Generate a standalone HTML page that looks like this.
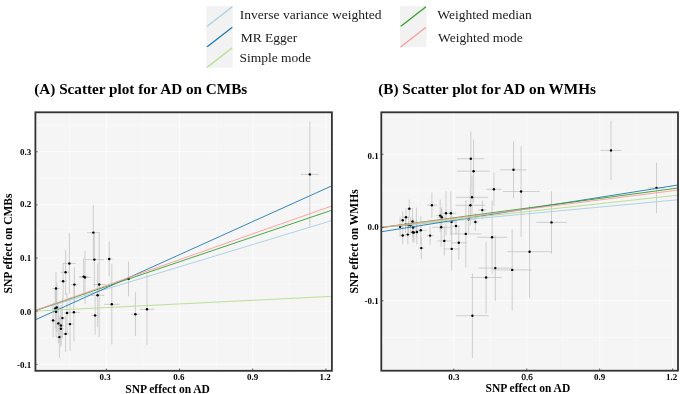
<!DOCTYPE html>
<html><head><meta charset="utf-8"><style>
html,body{margin:0;padding:0;background:#fff;}
body{width:685px;height:394px;overflow:hidden;}
svg{display:block;font-family:"Liberation Serif", serif;will-change:transform;}
</style></head><body>
<svg width="685" height="394" viewBox="0 0 685 394">
<rect x="35.4" y="112.3" width="296.50" height="258.50" fill="#f5f5f5"/>
<line x1="69.81" y1="112.3" x2="69.81" y2="370.8" stroke="#fcfcfc" stroke-width="0.6"/>
<line x1="142.99" y1="112.3" x2="142.99" y2="370.8" stroke="#fcfcfc" stroke-width="0.6"/>
<line x1="216.16" y1="112.3" x2="216.16" y2="370.8" stroke="#fcfcfc" stroke-width="0.6"/>
<line x1="289.33" y1="112.3" x2="289.33" y2="370.8" stroke="#fcfcfc" stroke-width="0.6"/>
<line x1="35.4" y1="337.77" x2="331.9" y2="337.77" stroke="#fcfcfc" stroke-width="0.6"/>
<line x1="35.4" y1="284.62" x2="331.9" y2="284.62" stroke="#fcfcfc" stroke-width="0.6"/>
<line x1="35.4" y1="231.47" x2="331.9" y2="231.47" stroke="#fcfcfc" stroke-width="0.6"/>
<line x1="35.4" y1="178.32" x2="331.9" y2="178.32" stroke="#fcfcfc" stroke-width="0.6"/>
<line x1="35.4" y1="125.18" x2="331.9" y2="125.18" stroke="#fcfcfc" stroke-width="0.6"/>
<line x1="106.40" y1="112.3" x2="106.40" y2="370.8" stroke="#fcfcfc" stroke-width="1.1"/>
<line x1="179.57" y1="112.3" x2="179.57" y2="370.8" stroke="#fcfcfc" stroke-width="1.1"/>
<line x1="252.74" y1="112.3" x2="252.74" y2="370.8" stroke="#fcfcfc" stroke-width="1.1"/>
<line x1="325.91" y1="112.3" x2="325.91" y2="370.8" stroke="#fcfcfc" stroke-width="1.1"/>
<line x1="35.4" y1="364.35" x2="331.9" y2="364.35" stroke="#fcfcfc" stroke-width="1.1"/>
<line x1="35.4" y1="311.20" x2="331.9" y2="311.20" stroke="#fcfcfc" stroke-width="1.1"/>
<line x1="35.4" y1="258.05" x2="331.9" y2="258.05" stroke="#fcfcfc" stroke-width="1.1"/>
<line x1="35.4" y1="204.90" x2="331.9" y2="204.90" stroke="#fcfcfc" stroke-width="1.1"/>
<line x1="35.4" y1="151.75" x2="331.9" y2="151.75" stroke="#fcfcfc" stroke-width="1.1"/>
<line x1="309.8" y1="121.6" x2="309.8" y2="227.2" stroke="#c4c4c4" stroke-width="0.8"/>
<line x1="300.9" y1="174.4" x2="318.7" y2="174.4" stroke="#c4c4c4" stroke-width="0.8"/>
<line x1="93.3" y1="205.0" x2="93.3" y2="260.2" stroke="#c4c4c4" stroke-width="0.8"/>
<line x1="87.2" y1="232.6" x2="99.4" y2="232.6" stroke="#c4c4c4" stroke-width="0.8"/>
<line x1="69.4" y1="233.2" x2="69.4" y2="293.8" stroke="#c4c4c4" stroke-width="0.8"/>
<line x1="63.1" y1="263.5" x2="75.7" y2="263.5" stroke="#c4c4c4" stroke-width="0.8"/>
<line x1="65.6" y1="249.7" x2="65.6" y2="294.9" stroke="#c4c4c4" stroke-width="0.8"/>
<line x1="60.9" y1="272.3" x2="70.3" y2="272.3" stroke="#c4c4c4" stroke-width="0.8"/>
<line x1="63.1" y1="263.0" x2="63.1" y2="299.4" stroke="#c4c4c4" stroke-width="0.8"/>
<line x1="59.4" y1="281.2" x2="66.8" y2="281.2" stroke="#c4c4c4" stroke-width="0.8"/>
<line x1="56.0" y1="271.8" x2="56.0" y2="305.2" stroke="#c4c4c4" stroke-width="0.8"/>
<line x1="52.1" y1="288.5" x2="59.9" y2="288.5" stroke="#c4c4c4" stroke-width="0.8"/>
<line x1="74.4" y1="267.2" x2="74.4" y2="302.0" stroke="#c4c4c4" stroke-width="0.8"/>
<line x1="70.9" y1="284.6" x2="77.9" y2="284.6" stroke="#c4c4c4" stroke-width="0.8"/>
<line x1="83.7" y1="258.0" x2="83.7" y2="295.2" stroke="#c4c4c4" stroke-width="0.8"/>
<line x1="79.3" y1="276.6" x2="88.1" y2="276.6" stroke="#c4c4c4" stroke-width="0.8"/>
<line x1="85.0" y1="251.0" x2="85.0" y2="303.8" stroke="#c4c4c4" stroke-width="0.8"/>
<line x1="79.2" y1="277.4" x2="90.8" y2="277.4" stroke="#c4c4c4" stroke-width="0.8"/>
<line x1="94.4" y1="231.6" x2="94.4" y2="287.6" stroke="#c4c4c4" stroke-width="0.8"/>
<line x1="85.0" y1="259.6" x2="103.8" y2="259.6" stroke="#c4c4c4" stroke-width="0.8"/>
<line x1="109.2" y1="241.5" x2="109.2" y2="276.5" stroke="#c4c4c4" stroke-width="0.8"/>
<line x1="105.9" y1="259.0" x2="112.5" y2="259.0" stroke="#c4c4c4" stroke-width="0.8"/>
<line x1="99.2" y1="232.0" x2="99.2" y2="337.0" stroke="#c4c4c4" stroke-width="0.8"/>
<line x1="92.9" y1="284.5" x2="105.5" y2="284.5" stroke="#c4c4c4" stroke-width="0.8"/>
<line x1="128.5" y1="261.5" x2="128.5" y2="296.3" stroke="#c4c4c4" stroke-width="0.8"/>
<line x1="126.6" y1="278.9" x2="130.4" y2="278.9" stroke="#c4c4c4" stroke-width="0.8"/>
<line x1="111.8" y1="264.0" x2="111.8" y2="344.6" stroke="#c4c4c4" stroke-width="0.8"/>
<line x1="104.1" y1="304.3" x2="119.5" y2="304.3" stroke="#c4c4c4" stroke-width="0.8"/>
<line x1="135.4" y1="292.2" x2="135.4" y2="336.2" stroke="#c4c4c4" stroke-width="0.8"/>
<line x1="131.2" y1="314.2" x2="139.6" y2="314.2" stroke="#c4c4c4" stroke-width="0.8"/>
<line x1="147.0" y1="273.8" x2="147.0" y2="344.8" stroke="#c4c4c4" stroke-width="0.8"/>
<line x1="139.8" y1="309.3" x2="154.2" y2="309.3" stroke="#c4c4c4" stroke-width="0.8"/>
<line x1="55.3" y1="288.4" x2="55.3" y2="328.4" stroke="#c4c4c4" stroke-width="0.8"/>
<line x1="52.3" y1="308.4" x2="58.3" y2="308.4" stroke="#c4c4c4" stroke-width="0.8"/>
<line x1="56.8" y1="282.4" x2="56.8" y2="332.4" stroke="#c4c4c4" stroke-width="0.8"/>
<line x1="53.8" y1="307.4" x2="59.8" y2="307.4" stroke="#c4c4c4" stroke-width="0.8"/>
<line x1="56.0" y1="286.8" x2="56.0" y2="336.8" stroke="#c4c4c4" stroke-width="0.8"/>
<line x1="53.0" y1="311.8" x2="59.0" y2="311.8" stroke="#c4c4c4" stroke-width="0.8"/>
<line x1="67.0" y1="293.0" x2="67.0" y2="333.0" stroke="#c4c4c4" stroke-width="0.8"/>
<line x1="64.0" y1="313.0" x2="70.0" y2="313.0" stroke="#c4c4c4" stroke-width="0.8"/>
<line x1="73.9" y1="283.1" x2="73.9" y2="341.5" stroke="#c4c4c4" stroke-width="0.8"/>
<line x1="67.9" y1="312.3" x2="79.9" y2="312.3" stroke="#c4c4c4" stroke-width="0.8"/>
<line x1="53.1" y1="303.4" x2="53.1" y2="337.4" stroke="#c4c4c4" stroke-width="0.8"/>
<line x1="50.7" y1="320.4" x2="55.5" y2="320.4" stroke="#c4c4c4" stroke-width="0.8"/>
<line x1="62.4" y1="298.1" x2="62.4" y2="338.1" stroke="#c4c4c4" stroke-width="0.8"/>
<line x1="59.9" y1="318.1" x2="64.9" y2="318.1" stroke="#c4c4c4" stroke-width="0.8"/>
<line x1="58.3" y1="303.4" x2="58.3" y2="343.4" stroke="#c4c4c4" stroke-width="0.8"/>
<line x1="55.3" y1="323.4" x2="61.3" y2="323.4" stroke="#c4c4c4" stroke-width="0.8"/>
<line x1="60.9" y1="305.5" x2="60.9" y2="345.5" stroke="#c4c4c4" stroke-width="0.8"/>
<line x1="57.9" y1="325.5" x2="63.9" y2="325.5" stroke="#c4c4c4" stroke-width="0.8"/>
<line x1="70.0" y1="297.1" x2="70.0" y2="351.1" stroke="#c4c4c4" stroke-width="0.8"/>
<line x1="66.2" y1="324.1" x2="73.8" y2="324.1" stroke="#c4c4c4" stroke-width="0.8"/>
<line x1="60.9" y1="310.8" x2="60.9" y2="346.8" stroke="#c4c4c4" stroke-width="0.8"/>
<line x1="57.9" y1="328.8" x2="63.9" y2="328.8" stroke="#c4c4c4" stroke-width="0.8"/>
<line x1="65.6" y1="316.0" x2="65.6" y2="351.8" stroke="#c4c4c4" stroke-width="0.8"/>
<line x1="61.9" y1="333.9" x2="69.2" y2="333.9" stroke="#c4c4c4" stroke-width="0.8"/>
<line x1="59.4" y1="316.3" x2="59.4" y2="357.9" stroke="#c4c4c4" stroke-width="0.8"/>
<line x1="55.9" y1="337.1" x2="62.9" y2="337.1" stroke="#c4c4c4" stroke-width="0.8"/>
<line x1="97.6" y1="263.6" x2="97.6" y2="327.0" stroke="#c4c4c4" stroke-width="0.8"/>
<line x1="90.8" y1="295.3" x2="104.4" y2="295.3" stroke="#c4c4c4" stroke-width="0.8"/>
<line x1="95.1" y1="296.2" x2="95.1" y2="334.6" stroke="#c4c4c4" stroke-width="0.8"/>
<line x1="91.1" y1="315.4" x2="99.1" y2="315.4" stroke="#c4c4c4" stroke-width="0.8"/>
<circle cx="309.8" cy="174.4" r="1.22" fill="#000"/>
<circle cx="93.3" cy="232.6" r="1.22" fill="#000"/>
<circle cx="69.4" cy="263.5" r="1.22" fill="#000"/>
<circle cx="65.6" cy="272.3" r="1.22" fill="#000"/>
<circle cx="63.1" cy="281.2" r="1.22" fill="#000"/>
<circle cx="56.0" cy="288.5" r="1.22" fill="#000"/>
<circle cx="74.4" cy="284.6" r="1.22" fill="#000"/>
<circle cx="83.7" cy="276.6" r="1.22" fill="#000"/>
<circle cx="85.0" cy="277.4" r="1.22" fill="#000"/>
<circle cx="94.4" cy="259.6" r="1.22" fill="#000"/>
<circle cx="109.2" cy="259.0" r="1.22" fill="#000"/>
<circle cx="99.2" cy="284.5" r="1.22" fill="#000"/>
<circle cx="128.5" cy="278.9" r="1.22" fill="#000"/>
<circle cx="111.8" cy="304.3" r="1.22" fill="#000"/>
<circle cx="135.4" cy="314.2" r="1.22" fill="#000"/>
<circle cx="147.0" cy="309.3" r="1.22" fill="#000"/>
<circle cx="55.3" cy="308.4" r="1.22" fill="#000"/>
<circle cx="56.8" cy="307.4" r="1.22" fill="#000"/>
<circle cx="56.0" cy="311.8" r="1.22" fill="#000"/>
<circle cx="67.0" cy="313.0" r="1.22" fill="#000"/>
<circle cx="73.9" cy="312.3" r="1.22" fill="#000"/>
<circle cx="53.1" cy="320.4" r="1.22" fill="#000"/>
<circle cx="62.4" cy="318.1" r="1.22" fill="#000"/>
<circle cx="58.3" cy="323.4" r="1.22" fill="#000"/>
<circle cx="60.9" cy="325.5" r="1.22" fill="#000"/>
<circle cx="70.0" cy="324.1" r="1.22" fill="#000"/>
<circle cx="60.9" cy="328.8" r="1.22" fill="#000"/>
<circle cx="65.6" cy="333.9" r="1.22" fill="#000"/>
<circle cx="59.4" cy="337.1" r="1.22" fill="#000"/>
<circle cx="97.6" cy="295.3" r="1.22" fill="#000"/>
<circle cx="95.1" cy="315.4" r="1.22" fill="#000"/>
<clipPath id="c35"><rect x="35.4" y="112.3" width="296.5" height="258.5"/></clipPath>
<g clip-path="url(#c35)">
<line x1="35.4" y1="310.54" x2="331.9" y2="220.54" stroke="#a6cee3" stroke-width="0.9"/>
<line x1="35.4" y1="319.81" x2="331.9" y2="185.80" stroke="#1f78b4" stroke-width="0.9"/>
<line x1="35.4" y1="311.09" x2="331.9" y2="296.36" stroke="#b2df8a" stroke-width="0.9"/>
<line x1="35.4" y1="310.47" x2="331.9" y2="210.19" stroke="#33a02c" stroke-width="0.9"/>
<line x1="35.4" y1="310.44" x2="331.9" y2="205.96" stroke="#fb9a99" stroke-width="0.9"/>
</g>
<line x1="106.40" y1="369.90000000000003" x2="106.40" y2="368.6" stroke="#333333" stroke-width="0.9"/>
<line x1="179.57" y1="369.90000000000003" x2="179.57" y2="368.6" stroke="#333333" stroke-width="0.9"/>
<line x1="252.74" y1="369.90000000000003" x2="252.74" y2="368.6" stroke="#333333" stroke-width="0.9"/>
<line x1="325.91" y1="369.90000000000003" x2="325.91" y2="368.6" stroke="#333333" stroke-width="0.9"/>
<line x1="36.3" y1="364.35" x2="37.6" y2="364.35" stroke="#333333" stroke-width="0.9"/>
<line x1="36.3" y1="311.20" x2="37.6" y2="311.20" stroke="#333333" stroke-width="0.9"/>
<line x1="36.3" y1="258.05" x2="37.6" y2="258.05" stroke="#333333" stroke-width="0.9"/>
<line x1="36.3" y1="204.90" x2="37.6" y2="204.90" stroke="#333333" stroke-width="0.9"/>
<line x1="36.3" y1="151.75" x2="37.6" y2="151.75" stroke="#333333" stroke-width="0.9"/>
<rect x="35.4" y="112.3" width="296.50" height="258.50" fill="none" stroke="#333333" stroke-width="1.8"/>
<rect x="381.3" y="112.3" width="296.70" height="258.40" fill="#f5f5f5"/>
<line x1="417.34" y1="112.3" x2="417.34" y2="370.7" stroke="#fcfcfc" stroke-width="0.6"/>
<line x1="490.26" y1="112.3" x2="490.26" y2="370.7" stroke="#fcfcfc" stroke-width="0.6"/>
<line x1="563.20" y1="112.3" x2="563.20" y2="370.7" stroke="#fcfcfc" stroke-width="0.6"/>
<line x1="636.12" y1="112.3" x2="636.12" y2="370.7" stroke="#fcfcfc" stroke-width="0.6"/>
<line x1="381.3" y1="337.30" x2="678.0" y2="337.30" stroke="#fcfcfc" stroke-width="0.6"/>
<line x1="381.3" y1="264.10" x2="678.0" y2="264.10" stroke="#fcfcfc" stroke-width="0.6"/>
<line x1="381.3" y1="190.90" x2="678.0" y2="190.90" stroke="#fcfcfc" stroke-width="0.6"/>
<line x1="381.3" y1="117.70" x2="678.0" y2="117.70" stroke="#fcfcfc" stroke-width="0.6"/>
<line x1="453.80" y1="112.3" x2="453.80" y2="370.7" stroke="#fcfcfc" stroke-width="1.1"/>
<line x1="526.73" y1="112.3" x2="526.73" y2="370.7" stroke="#fcfcfc" stroke-width="1.1"/>
<line x1="599.66" y1="112.3" x2="599.66" y2="370.7" stroke="#fcfcfc" stroke-width="1.1"/>
<line x1="672.59" y1="112.3" x2="672.59" y2="370.7" stroke="#fcfcfc" stroke-width="1.1"/>
<line x1="381.3" y1="300.70" x2="678.0" y2="300.70" stroke="#fcfcfc" stroke-width="1.1"/>
<line x1="381.3" y1="227.50" x2="678.0" y2="227.50" stroke="#fcfcfc" stroke-width="1.1"/>
<line x1="381.3" y1="154.30" x2="678.0" y2="154.30" stroke="#fcfcfc" stroke-width="1.1"/>
<line x1="416.4" y1="207.6" x2="416.4" y2="237.4" stroke="#c4c4c4" stroke-width="0.8"/>
<line x1="611.0" y1="120.8" x2="611.0" y2="180.0" stroke="#c4c4c4" stroke-width="0.8"/>
<line x1="600.5" y1="150.4" x2="621.5" y2="150.4" stroke="#c4c4c4" stroke-width="0.8"/>
<line x1="656.5" y1="162.7" x2="656.5" y2="213.1" stroke="#c4c4c4" stroke-width="0.8"/>
<line x1="648.1" y1="187.9" x2="664.9" y2="187.9" stroke="#c4c4c4" stroke-width="0.8"/>
<line x1="470.8" y1="131.7" x2="470.8" y2="185.7" stroke="#c4c4c4" stroke-width="0.8"/>
<line x1="457.1" y1="158.7" x2="484.5" y2="158.7" stroke="#c4c4c4" stroke-width="0.8"/>
<line x1="473.6" y1="139.7" x2="473.6" y2="202.7" stroke="#c4c4c4" stroke-width="0.8"/>
<line x1="457.3" y1="171.2" x2="489.9" y2="171.2" stroke="#c4c4c4" stroke-width="0.8"/>
<line x1="472.0" y1="175.3" x2="472.0" y2="219.3" stroke="#c4c4c4" stroke-width="0.8"/>
<line x1="456.0" y1="197.3" x2="488.0" y2="197.3" stroke="#c4c4c4" stroke-width="0.8"/>
<line x1="470.4" y1="185.3" x2="470.4" y2="225.3" stroke="#c4c4c4" stroke-width="0.8"/>
<line x1="455.6" y1="205.3" x2="485.2" y2="205.3" stroke="#c4c4c4" stroke-width="0.8"/>
<line x1="493.9" y1="172.8" x2="493.9" y2="205.8" stroke="#c4c4c4" stroke-width="0.8"/>
<line x1="486.4" y1="189.3" x2="501.4" y2="189.3" stroke="#c4c4c4" stroke-width="0.8"/>
<line x1="513.5" y1="141.5" x2="513.5" y2="198.1" stroke="#c4c4c4" stroke-width="0.8"/>
<line x1="500.3" y1="169.8" x2="526.7" y2="169.8" stroke="#c4c4c4" stroke-width="0.8"/>
<line x1="521.1" y1="146.1" x2="521.1" y2="236.9" stroke="#c4c4c4" stroke-width="0.8"/>
<line x1="502.8" y1="191.5" x2="539.4" y2="191.5" stroke="#c4c4c4" stroke-width="0.8"/>
<line x1="482.3" y1="200.6" x2="482.3" y2="219.6" stroke="#c4c4c4" stroke-width="0.8"/>
<line x1="478.1" y1="210.1" x2="486.5" y2="210.1" stroke="#c4c4c4" stroke-width="0.8"/>
<line x1="551.5" y1="191.2" x2="551.5" y2="253.6" stroke="#c4c4c4" stroke-width="0.8"/>
<line x1="536.3" y1="222.4" x2="566.7" y2="222.4" stroke="#c4c4c4" stroke-width="0.8"/>
<line x1="529.6" y1="205.5" x2="529.6" y2="297.9" stroke="#c4c4c4" stroke-width="0.8"/>
<line x1="507.2" y1="251.7" x2="552.0" y2="251.7" stroke="#c4c4c4" stroke-width="0.8"/>
<line x1="512.2" y1="229.3" x2="512.2" y2="310.5" stroke="#c4c4c4" stroke-width="0.8"/>
<line x1="492.8" y1="269.9" x2="531.6" y2="269.9" stroke="#c4c4c4" stroke-width="0.8"/>
<line x1="495.3" y1="235.4" x2="495.3" y2="300.8" stroke="#c4c4c4" stroke-width="0.8"/>
<line x1="478.7" y1="268.1" x2="511.9" y2="268.1" stroke="#c4c4c4" stroke-width="0.8"/>
<line x1="486.1" y1="241.6" x2="486.1" y2="313.4" stroke="#c4c4c4" stroke-width="0.8"/>
<line x1="470.4" y1="277.5" x2="501.8" y2="277.5" stroke="#c4c4c4" stroke-width="0.8"/>
<line x1="472.4" y1="273.5" x2="472.4" y2="357.9" stroke="#c4c4c4" stroke-width="0.8"/>
<line x1="456.2" y1="315.7" x2="488.6" y2="315.7" stroke="#c4c4c4" stroke-width="0.8"/>
<line x1="492.1" y1="200.8" x2="492.1" y2="273.8" stroke="#c4c4c4" stroke-width="0.8"/>
<line x1="477.2" y1="237.3" x2="507.0" y2="237.3" stroke="#c4c4c4" stroke-width="0.8"/>
<line x1="465.8" y1="200.4" x2="465.8" y2="267.4" stroke="#c4c4c4" stroke-width="0.8"/>
<line x1="450.4" y1="233.9" x2="481.2" y2="233.9" stroke="#c4c4c4" stroke-width="0.8"/>
<line x1="475.4" y1="213.0" x2="475.4" y2="231.0" stroke="#c4c4c4" stroke-width="0.8"/>
<line x1="472.4" y1="222.0" x2="478.4" y2="222.0" stroke="#c4c4c4" stroke-width="0.8"/>
<line x1="468.6" y1="205.2" x2="468.6" y2="233.2" stroke="#c4c4c4" stroke-width="0.8"/>
<line x1="462.6" y1="219.2" x2="474.6" y2="219.2" stroke="#c4c4c4" stroke-width="0.8"/>
<line x1="458.8" y1="226.1" x2="458.8" y2="259.5" stroke="#c4c4c4" stroke-width="0.8"/>
<line x1="450.8" y1="242.8" x2="466.8" y2="242.8" stroke="#c4c4c4" stroke-width="0.8"/>
<line x1="451.7" y1="227.3" x2="451.7" y2="270.5" stroke="#c4c4c4" stroke-width="0.8"/>
<line x1="443.3" y1="248.9" x2="460.1" y2="248.9" stroke="#c4c4c4" stroke-width="0.8"/>
<line x1="444.3" y1="226.3" x2="444.3" y2="255.5" stroke="#c4c4c4" stroke-width="0.8"/>
<line x1="437.4" y1="240.9" x2="451.2" y2="240.9" stroke="#c4c4c4" stroke-width="0.8"/>
<line x1="441.2" y1="207.7" x2="441.2" y2="246.9" stroke="#c4c4c4" stroke-width="0.8"/>
<line x1="431.8" y1="227.3" x2="450.6" y2="227.3" stroke="#c4c4c4" stroke-width="0.8"/>
<line x1="456.0" y1="217.4" x2="456.0" y2="234.6" stroke="#c4c4c4" stroke-width="0.8"/>
<line x1="452.0" y1="226.0" x2="460.0" y2="226.0" stroke="#c4c4c4" stroke-width="0.8"/>
<line x1="451.6" y1="209.9" x2="451.6" y2="233.9" stroke="#c4c4c4" stroke-width="0.8"/>
<line x1="446.6" y1="221.9" x2="456.6" y2="221.9" stroke="#c4c4c4" stroke-width="0.8"/>
<line x1="446.0" y1="191.3" x2="446.0" y2="235.3" stroke="#c4c4c4" stroke-width="0.8"/>
<line x1="441.0" y1="213.3" x2="451.0" y2="213.3" stroke="#c4c4c4" stroke-width="0.8"/>
<line x1="450.9" y1="191.3" x2="450.9" y2="235.3" stroke="#c4c4c4" stroke-width="0.8"/>
<line x1="445.4" y1="213.3" x2="456.4" y2="213.3" stroke="#c4c4c4" stroke-width="0.8"/>
<line x1="440.2" y1="199.6" x2="440.2" y2="231.6" stroke="#c4c4c4" stroke-width="0.8"/>
<line x1="436.2" y1="215.6" x2="444.2" y2="215.6" stroke="#c4c4c4" stroke-width="0.8"/>
<line x1="441.8" y1="207.3" x2="441.8" y2="227.3" stroke="#c4c4c4" stroke-width="0.8"/>
<line x1="437.8" y1="217.3" x2="445.8" y2="217.3" stroke="#c4c4c4" stroke-width="0.8"/>
<line x1="431.9" y1="192.6" x2="431.9" y2="217.8" stroke="#c4c4c4" stroke-width="0.8"/>
<line x1="426.6" y1="205.2" x2="437.2" y2="205.2" stroke="#c4c4c4" stroke-width="0.8"/>
<line x1="430.1" y1="226.5" x2="430.1" y2="244.7" stroke="#c4c4c4" stroke-width="0.8"/>
<line x1="426.6" y1="235.6" x2="433.6" y2="235.6" stroke="#c4c4c4" stroke-width="0.8"/>
<line x1="420.8" y1="216.4" x2="420.8" y2="244.2" stroke="#c4c4c4" stroke-width="0.8"/>
<line x1="415.1" y1="230.3" x2="426.5" y2="230.3" stroke="#c4c4c4" stroke-width="0.8"/>
<line x1="421.3" y1="237.1" x2="421.3" y2="259.1" stroke="#c4c4c4" stroke-width="0.8"/>
<line x1="418.3" y1="248.1" x2="424.3" y2="248.1" stroke="#c4c4c4" stroke-width="0.8"/>
<line x1="416.9" y1="219.6" x2="416.9" y2="244.4" stroke="#c4c4c4" stroke-width="0.8"/>
<line x1="413.9" y1="232.0" x2="419.9" y2="232.0" stroke="#c4c4c4" stroke-width="0.8"/>
<line x1="412.8" y1="222.3" x2="412.8" y2="242.3" stroke="#c4c4c4" stroke-width="0.8"/>
<line x1="409.8" y1="232.3" x2="415.8" y2="232.3" stroke="#c4c4c4" stroke-width="0.8"/>
<line x1="413.9" y1="222.6" x2="413.9" y2="242.6" stroke="#c4c4c4" stroke-width="0.8"/>
<line x1="410.9" y1="232.6" x2="416.9" y2="232.6" stroke="#c4c4c4" stroke-width="0.8"/>
<line x1="407.8" y1="224.9" x2="407.8" y2="244.3" stroke="#c4c4c4" stroke-width="0.8"/>
<line x1="404.8" y1="234.6" x2="410.8" y2="234.6" stroke="#c4c4c4" stroke-width="0.8"/>
<line x1="402.7" y1="226.7" x2="402.7" y2="244.3" stroke="#c4c4c4" stroke-width="0.8"/>
<line x1="399.7" y1="235.5" x2="405.7" y2="235.5" stroke="#c4c4c4" stroke-width="0.8"/>
<line x1="400.1" y1="216.7" x2="400.1" y2="236.7" stroke="#c4c4c4" stroke-width="0.8"/>
<line x1="397.1" y1="226.7" x2="403.1" y2="226.7" stroke="#c4c4c4" stroke-width="0.8"/>
<line x1="413.1" y1="217.6" x2="413.1" y2="237.6" stroke="#c4c4c4" stroke-width="0.8"/>
<line x1="410.1" y1="227.6" x2="416.1" y2="227.6" stroke="#c4c4c4" stroke-width="0.8"/>
<line x1="412.5" y1="208.1" x2="412.5" y2="234.9" stroke="#c4c4c4" stroke-width="0.8"/>
<line x1="409.5" y1="221.5" x2="415.5" y2="221.5" stroke="#c4c4c4" stroke-width="0.8"/>
<line x1="402.7" y1="211.3" x2="402.7" y2="229.1" stroke="#c4c4c4" stroke-width="0.8"/>
<line x1="399.7" y1="220.2" x2="405.7" y2="220.2" stroke="#c4c4c4" stroke-width="0.8"/>
<line x1="406.0" y1="208.3" x2="406.0" y2="226.1" stroke="#c4c4c4" stroke-width="0.8"/>
<line x1="403.0" y1="217.2" x2="409.0" y2="217.2" stroke="#c4c4c4" stroke-width="0.8"/>
<line x1="409.3" y1="199.6" x2="409.3" y2="218.0" stroke="#c4c4c4" stroke-width="0.8"/>
<line x1="406.8" y1="208.8" x2="411.8" y2="208.8" stroke="#c4c4c4" stroke-width="0.8"/>
<line x1="405.5" y1="216.8" x2="405.5" y2="232.8" stroke="#c4c4c4" stroke-width="0.8"/>
<line x1="402.5" y1="224.8" x2="408.5" y2="224.8" stroke="#c4c4c4" stroke-width="0.8"/>
<line x1="408.5" y1="217.0" x2="408.5" y2="233.0" stroke="#c4c4c4" stroke-width="0.8"/>
<line x1="405.5" y1="225.0" x2="411.5" y2="225.0" stroke="#c4c4c4" stroke-width="0.8"/>
<line x1="410.4" y1="217.2" x2="410.4" y2="233.2" stroke="#c4c4c4" stroke-width="0.8"/>
<line x1="407.4" y1="225.2" x2="413.4" y2="225.2" stroke="#c4c4c4" stroke-width="0.8"/>
<circle cx="611.0" cy="150.4" r="1.22" fill="#000"/>
<circle cx="656.5" cy="187.9" r="1.22" fill="#000"/>
<circle cx="470.8" cy="158.7" r="1.22" fill="#000"/>
<circle cx="473.6" cy="171.2" r="1.22" fill="#000"/>
<circle cx="472.0" cy="197.3" r="1.22" fill="#000"/>
<circle cx="470.4" cy="205.3" r="1.22" fill="#000"/>
<circle cx="493.9" cy="189.3" r="1.22" fill="#000"/>
<circle cx="513.5" cy="169.8" r="1.22" fill="#000"/>
<circle cx="521.1" cy="191.5" r="1.22" fill="#000"/>
<circle cx="482.3" cy="210.1" r="1.22" fill="#000"/>
<circle cx="551.5" cy="222.4" r="1.22" fill="#000"/>
<circle cx="529.6" cy="251.7" r="1.22" fill="#000"/>
<circle cx="512.2" cy="269.9" r="1.22" fill="#000"/>
<circle cx="495.3" cy="268.1" r="1.22" fill="#000"/>
<circle cx="486.1" cy="277.5" r="1.22" fill="#000"/>
<circle cx="472.4" cy="315.7" r="1.22" fill="#000"/>
<circle cx="492.1" cy="237.3" r="1.22" fill="#000"/>
<circle cx="465.8" cy="233.9" r="1.22" fill="#000"/>
<circle cx="475.4" cy="222.0" r="1.22" fill="#000"/>
<circle cx="468.6" cy="219.2" r="1.22" fill="#000"/>
<circle cx="458.8" cy="242.8" r="1.22" fill="#000"/>
<circle cx="451.7" cy="248.9" r="1.22" fill="#000"/>
<circle cx="444.3" cy="240.9" r="1.22" fill="#000"/>
<circle cx="441.2" cy="227.3" r="1.22" fill="#000"/>
<circle cx="456.0" cy="226.0" r="1.22" fill="#000"/>
<circle cx="451.6" cy="221.9" r="1.22" fill="#000"/>
<circle cx="446.0" cy="213.3" r="1.22" fill="#000"/>
<circle cx="450.9" cy="213.3" r="1.22" fill="#000"/>
<circle cx="440.2" cy="215.6" r="1.22" fill="#000"/>
<circle cx="441.8" cy="217.3" r="1.22" fill="#000"/>
<circle cx="431.9" cy="205.2" r="1.22" fill="#000"/>
<circle cx="430.1" cy="235.6" r="1.22" fill="#000"/>
<circle cx="420.8" cy="230.3" r="1.22" fill="#000"/>
<circle cx="421.3" cy="248.1" r="1.22" fill="#000"/>
<circle cx="416.9" cy="232.0" r="1.22" fill="#000"/>
<circle cx="412.8" cy="232.3" r="1.22" fill="#000"/>
<circle cx="413.9" cy="232.6" r="1.22" fill="#000"/>
<circle cx="407.8" cy="234.6" r="1.22" fill="#000"/>
<circle cx="402.7" cy="235.5" r="1.22" fill="#000"/>
<circle cx="400.1" cy="226.7" r="1.22" fill="#000"/>
<circle cx="413.1" cy="227.6" r="1.22" fill="#000"/>
<circle cx="412.5" cy="221.5" r="1.22" fill="#000"/>
<circle cx="402.7" cy="220.2" r="1.22" fill="#000"/>
<circle cx="406.0" cy="217.2" r="1.22" fill="#000"/>
<circle cx="409.3" cy="208.8" r="1.22" fill="#000"/>
<circle cx="405.5" cy="224.8" r="1.22" fill="#000"/>
<circle cx="408.5" cy="225.0" r="1.22" fill="#000"/>
<circle cx="410.4" cy="225.2" r="1.22" fill="#000"/>
<clipPath id="c381"><rect x="381.3" y="112.3" width="296.7" height="258.4"/></clipPath>
<g clip-path="url(#c381)">
<line x1="381.3" y1="227.46" x2="678.0" y2="199.76" stroke="#a6cee3" stroke-width="0.9"/>
<line x1="381.3" y1="231.75" x2="678.0" y2="185.03" stroke="#1f78b4" stroke-width="0.9"/>
<line x1="381.3" y1="227.45" x2="678.0" y2="195.20" stroke="#b2df8a" stroke-width="0.9"/>
<line x1="381.3" y1="227.44" x2="678.0" y2="188.04" stroke="#33a02c" stroke-width="0.9"/>
<line x1="381.3" y1="227.45" x2="678.0" y2="190.10" stroke="#fb9a99" stroke-width="0.9"/>
</g>
<line x1="453.80" y1="369.8" x2="453.80" y2="368.5" stroke="#333333" stroke-width="0.9"/>
<line x1="526.73" y1="369.8" x2="526.73" y2="368.5" stroke="#333333" stroke-width="0.9"/>
<line x1="599.66" y1="369.8" x2="599.66" y2="368.5" stroke="#333333" stroke-width="0.9"/>
<line x1="672.59" y1="369.8" x2="672.59" y2="368.5" stroke="#333333" stroke-width="0.9"/>
<line x1="382.2" y1="300.70" x2="383.5" y2="300.70" stroke="#333333" stroke-width="0.9"/>
<line x1="382.2" y1="227.50" x2="383.5" y2="227.50" stroke="#333333" stroke-width="0.9"/>
<line x1="382.2" y1="154.30" x2="383.5" y2="154.30" stroke="#333333" stroke-width="0.9"/>
<rect x="381.3" y="112.3" width="296.70" height="258.40" fill="none" stroke="#333333" stroke-width="1.8"/>
<text x="34.3" y="93.6" font-size="15.2" font-weight="bold" text-anchor="start" fill="#000" >(A) Scatter plot for AD on CMBs</text>
<text x="378.2" y="93.9" font-size="15.2" font-weight="bold" text-anchor="start" fill="#000" >(B) Scatter plot for AD on WMHs</text>
<text x="31.2" y="154.9" font-size="9" font-weight="bold" text-anchor="end" fill="#000" >0.3</text>
<text x="31.2" y="207.0" font-size="9" font-weight="bold" text-anchor="end" fill="#000" >0.2</text>
<text x="31.2" y="261.1" font-size="9" font-weight="bold" text-anchor="end" fill="#000" >0.1</text>
<text x="31.2" y="315.1" font-size="9" font-weight="bold" text-anchor="end" fill="#000" >0.0</text>
<text x="31.2" y="368.3" font-size="9" font-weight="bold" text-anchor="end" fill="#000" >-0.1</text>
<text x="105.2" y="380.4" font-size="9" font-weight="bold" text-anchor="middle" fill="#000" >0.3</text>
<text x="178.9" y="380.4" font-size="9" font-weight="bold" text-anchor="middle" fill="#000" >0.6</text>
<text x="252.5" y="380.4" font-size="9" font-weight="bold" text-anchor="middle" fill="#000" >0.9</text>
<text x="325.0" y="380.4" font-size="9" font-weight="bold" text-anchor="middle" fill="#000" >1.2</text>
<text x="378.7" y="158.9" font-size="9" font-weight="bold" text-anchor="end" fill="#000" >0.1</text>
<text x="378.7" y="230.0" font-size="9" font-weight="bold" text-anchor="end" fill="#000" >0.0</text>
<text x="378.7" y="304.20000000000005" font-size="9" font-weight="bold" text-anchor="end" fill="#000" >-0.1</text>
<text x="453.8" y="380.4" font-size="9" font-weight="bold" text-anchor="middle" fill="#000" >0.3</text>
<text x="599.6" y="380.4" font-size="9" font-weight="bold" text-anchor="middle" fill="#000" >0.9</text>
<text x="671.6" y="380.4" font-size="9" font-weight="bold" text-anchor="middle" fill="#000" >1.2</text>
<text x="527.2" y="380.4" font-size="9" font-weight="normal" text-anchor="middle" fill="#000" stroke="#000" stroke-width="0.3">0.6</text>
<text x="167.6" y="393.1" font-size="11.5" font-weight="bold" text-anchor="middle" fill="#000" >SNP effect on AD</text>
<text x="527.9" y="392.1" font-size="11.5" font-weight="bold" text-anchor="middle" fill="#000" >SNP effect on AD</text>
<text x="0" y="0" font-size="11.5" font-weight="bold" text-anchor="middle" fill="#000" transform="translate(11.6,243.5) rotate(-90)">SNP effect on CMBs</text>
<text x="0" y="0" font-size="11.5" font-weight="bold" text-anchor="middle" fill="#000" transform="translate(358,241.5) rotate(-90)">SNP effect on WMHs</text>
<rect x="206.3" y="6.2" width="26.4" height="20.5" fill="#f2f2f2"/>
<line x1="206.9" y1="26.599999999999998" x2="232.3" y2="6.7" stroke="#a6cee3" stroke-width="1.25"/>
<rect x="206.3" y="26.7" width="26.4" height="20.5" fill="#f2f2f2"/>
<line x1="206.9" y1="47.099999999999994" x2="232.3" y2="27.2" stroke="#1f78b4" stroke-width="1.25"/>
<rect x="206.3" y="47.2" width="26.4" height="20.5" fill="#f2f2f2"/>
<line x1="206.9" y1="67.6" x2="232.3" y2="47.7" stroke="#b2df8a" stroke-width="1.25"/>
<rect x="400" y="6.2" width="26.4" height="20.5" fill="#f2f2f2"/>
<line x1="400.6" y1="26.599999999999998" x2="426" y2="6.7" stroke="#33a02c" stroke-width="1.25"/>
<rect x="400" y="26.7" width="26.4" height="20.5" fill="#f2f2f2"/>
<line x1="400.6" y1="47.099999999999994" x2="426" y2="27.2" stroke="#fb9a99" stroke-width="1.25"/>
<text x="239.8" y="19.2" font-size="13.5" font-weight="normal" text-anchor="start" fill="#1a1a1a" >Inverse variance weighted</text>
<text x="240.7" y="41.6" font-size="13.5" font-weight="normal" text-anchor="start" fill="#1a1a1a" >MR Egger</text>
<text x="239.4" y="62.3" font-size="13.5" font-weight="normal" text-anchor="start" fill="#1a1a1a" >Simple mode</text>
<text x="437.3" y="19" font-size="13.5" font-weight="normal" text-anchor="start" fill="#1a1a1a" >Weighted median</text>
<text x="438.1" y="42" font-size="13.5" font-weight="normal" text-anchor="start" fill="#1a1a1a" >Weighted mode</text>
</svg>
</body></html>
